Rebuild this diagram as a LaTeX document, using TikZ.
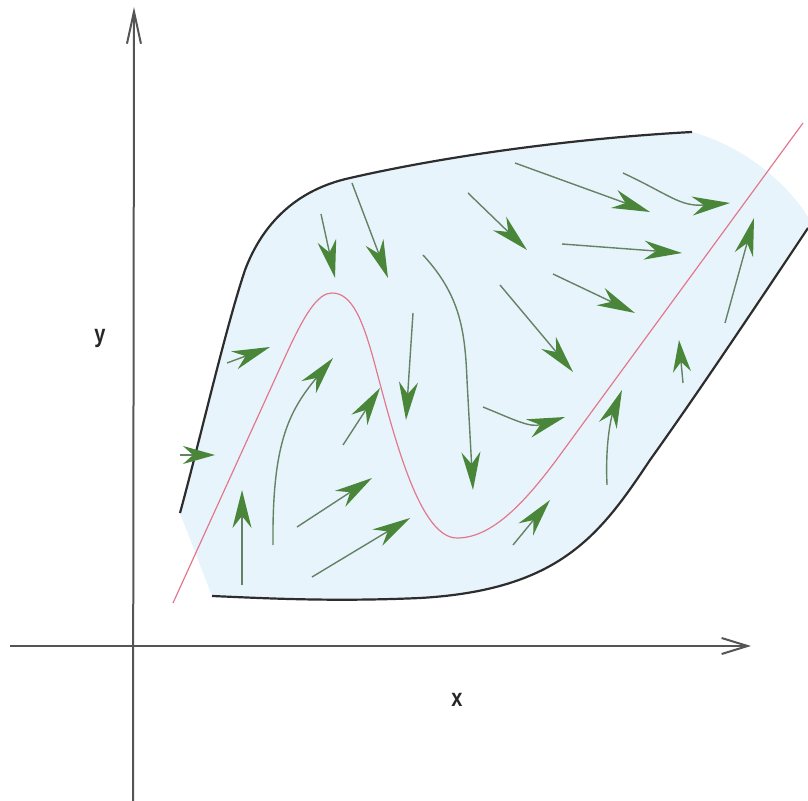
\documentclass[tikz,border=0pt]{standalone}
\usepackage{fontspec}
\setsansfont{Liberation Sans}
\usetikzlibrary{arrows.meta}
\definecolor{regionc}{RGB}{232,244,251}
\definecolor{bordc}{RGB}{45,45,45}
\definecolor{axisc}{RGB}{85,85,85}
\definecolor{curvec}{RGB}{226,120,140}
\definecolor{headc}{RGB}{74,134,58}
\definecolor{shaftc}{RGB}{100,130,100}
\tikzset{
  axisline/.style={draw=axisc, line width=1pt},
  border/.style={draw=bordc, line width=1.1pt},
  nullc/.style={draw=curvec, line width=0.6pt},
  vec/.style={draw=shaftc, line width=0.7pt, -{Stealth[length=19pt,width=9.5pt,inset=6pt,color=headc]}},
  shortvec/.style={draw=shaftc, line width=0.7pt, -{Stealth[length=16pt,width=9pt,inset=5pt,color=headc]}},
  lbl/.style={font=\sffamily\bfseries\fontsize{12.5}{13}\selectfont, text=black!85, inner sep=0pt, anchor=base}
}
\begin{document}
\begin{tikzpicture}[x=0.5pt,y=-0.5pt]
\useasboundingbox (0,0) rectangle (808,801);
% region
\fill[regionc] (180,513) .. controls (200,440) and (225,330) .. (245,270)
  .. controls (262,225) and (295,190) .. (350,178)
  .. controls (450,155) and (580,138) .. (692,132)
  .. controls (740,145) and (785,180) .. (808,217)
  -- (808,228) .. controls (760,300) and (700,390) .. (650,460)
  .. controls (600,535) and (560,590) .. (420,598)
  .. controls (330,602) and (260,598) .. (212,596)
  -- cycle;
% borders
\draw[border] (180,513) .. controls (200,440) and (225,330) .. (245,270)
  .. controls (262,225) and (295,190) .. (350,178)
  .. controls (450,155) and (580,138) .. (692,132);
\draw[border] (808,228) .. controls (760,300) and (700,390) .. (650,460)
  .. controls (600,535) and (560,590) .. (420,598)
  .. controls (330,602) and (260,598) .. (212,596);
% axes
\coordinate (yb) at (133,801);
\coordinate (yt) at (134,7);
\coordinate (xl) at (10,646);
\coordinate (xr) at (751,646);
\draw[axisline, -{Straight Barb[length=16pt,width=7pt]}] (yb) -- (yt);
\draw[axisline, -{Straight Barb[length=13pt,width=8pt]}] (xl) -- (xr);
\node[lbl] (ylab) at (100,343) {\scalebox{0.8}[1]{y}};
\node[lbl] (xlab) at (457,706) {\scalebox{0.8}[1]{x}};
% nullcline
\draw[nullc] (173,603) -- (285,357)
  .. controls (305,313) and (318,293) .. (332,293)
  .. controls (352,293) and (363,320) .. (375,365)
  .. controls (395,440) and (420,538) .. (457,538)
  .. controls (490,538) and (522,507) .. (560,455)
  -- (803,123);
% vectors
\draw[vec] (227,363) -- (270,347);
\draw[vec] (273,545) .. controls (272,445) and (288,412) .. (333,358);
\draw[vec] (343,445) -- (380,388);
\draw[vec] (413,313) -- (406,420);
\draw[shortvec] (180,455) -- (215,455);
\draw[vec] (242,585) -- (242,490);
\draw[vec] (297,527) -- (372,478);
\draw[vec] (312,577) -- (410,518);
\draw[vec] (321,214) -- (335,278);
\draw[vec] (352,183) -- (388,278);
\draw[vec] (423,255) .. controls (460,295) and (465,330) .. (467,380) -- (473,490);
\draw[vec] (468,193) -- (527,250);
\draw[vec] (500,285) -- (573,372);
\draw[vec] (483,407) .. controls (515,420) and (530,428) .. (565,417);
\draw[vec] (513,545) -- (550,500);
\draw[vec] (515,163) -- (650,212);
\draw[vec] (623,173) .. controls (670,195) and (680,207) .. (730,203);
\draw[vec] (562,244) -- (682,253);
\draw[vec] (553,274) -- (635,313);
\draw[vec] (725,323) -- (754,218);
\draw[shortvec] (683,383) -- (679,340);
\draw[vec] (607,485) .. controls (605,440) and (612,415) .. (622,390);
\end{tikzpicture}
\end{document}
